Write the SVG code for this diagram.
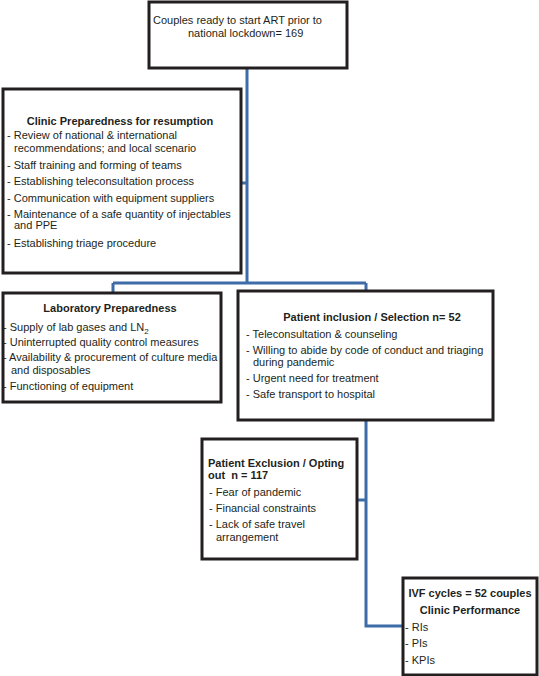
<svg xmlns="http://www.w3.org/2000/svg" width="539" height="676" viewBox="0 0 539 676">
<style>
.box{fill:#fff;stroke:#231f20;stroke-width:3}
.t{font-family:"Liberation Sans",Arial,sans-serif;font-size:11px;fill:#231f20}
.b{font-weight:bold}
.c{text-anchor:middle}
.conn{fill:none;stroke:#3d6ca8;stroke-width:3}
</style>
<rect width="539" height="676" fill="#fff"/>
<g id="connectors">
<path class="conn" d="M247,69 V283"/>
<path class="conn" d="M241,183 H247"/>
<path class="conn" d="M113,283 H366 M113,283 V293 M366,283 V291"/>
<path class="conn" d="M366,420 V626 H403"/>
<path class="conn" d="M357,500 H366"/>
</g>
<g id="start">
<rect class="box" x="149" y="2" width="198" height="66"/>
<text class="t" x="153" y="24">Couples ready to start ART prior to</text>
<text class="t" x="188" y="37">national lockdown= 169</text>
</g>
<g id="clinic">
<rect class="box" x="3" y="89" width="238" height="184"/>
<text class="t b c" x="120" y="125">Clinic Preparedness for resumption</text>
<text class="t" x="7" y="139">- Review of national &amp; international</text>
<text class="t" x="14" y="152">recommendations; and local scenario</text>
<text class="t" x="7" y="169">- Staff training and forming of teams</text>
<text class="t" x="7" y="185">- Establishing teleconsultation process</text>
<text class="t" x="7" y="202">- Communication with equipment suppliers</text>
<text class="t" x="7" y="218">- Maintenance of a safe quantity of injectables</text>
<text class="t" x="14" y="229">and PPE</text>
<text class="t" x="7" y="247">- Establishing triage procedure</text>
</g>
<g id="lab">
<rect class="box" x="3" y="293" width="218" height="109"/>
<text class="t b c" x="110" y="312">Laboratory Preparedness</text>
<text class="t" x="3" y="331">- Supply of lab gases and LN<tspan font-size="8" dy="3">2</tspan></text>
<text class="t" x="3" y="346">- Uninterrupted quality control measures</text>
<text class="t" x="3" y="361">- Availability &amp; procurement of culture media</text>
<text class="t" x="11" y="374">and disposables</text>
<text class="t" x="3" y="390">- Functioning of equipment</text>
</g>
<g id="inclusion">
<rect class="box" x="238" y="291" width="255" height="129"/>
<text class="t b c" x="372" y="321">Patient inclusion / Selection n= 52</text>
<text class="t" x="246" y="338">- Teleconsultation &amp; counseling</text>
<text class="t" x="246" y="354">- Willing to abide by code of conduct and triaging</text>
<text class="t" x="253" y="366">during pandemic</text>
<text class="t" x="246" y="382">- Urgent need for treatment</text>
<text class="t" x="246" y="398">- Safe transport to hospital</text>
</g>
<g id="exclusion">
<rect class="box" x="202" y="439" width="155" height="120"/>
<text class="t b" x="208" y="467">Patient Exclusion / Opting</text>
<text class="t b" x="208" y="479">out&#160; n = 117</text>
<text class="t" x="209" y="496">- Fear of pandemic</text>
<text class="t" x="209" y="512">- Financial constraints</text>
<text class="t" x="209" y="528">- Lack of safe travel</text>
<text class="t" x="216" y="541">arrangement</text>
</g>
<g id="ivf">
<rect class="box" x="403" y="578" width="134" height="97"/>
<text class="t b c" x="470" y="597">IVF cycles = 52 couples</text>
<text class="t b c" x="470" y="614">Clinic Performance</text>
<text class="t" x="405" y="631">- RIs</text>
<text class="t" x="405" y="647">- PIs</text>
<text class="t" x="405" y="664">- KPIs</text>
</g>
</svg>
